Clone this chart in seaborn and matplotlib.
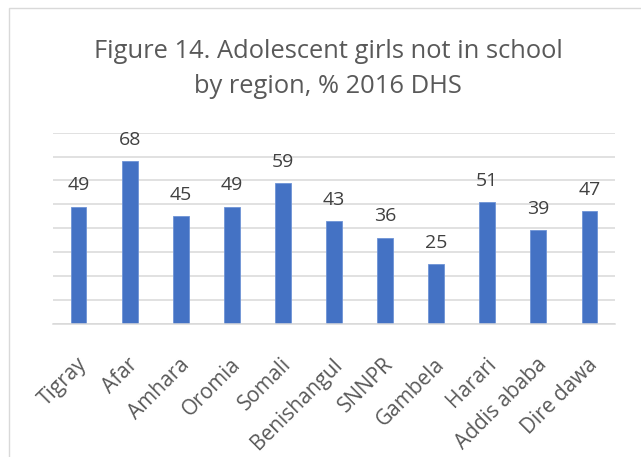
import matplotlib
matplotlib.use("Agg")
import matplotlib.pyplot as plt
import matplotlib.transforms as mtransforms
import seaborn as sns
import pandas as pd

# 数据
regions = ["Tigray", "Afar", "Amhara", "Oromia", "Somali", "Benishangul",
           "SNNPR", "Gambela", "Harari", "Addis ababa", "Dire dawa"]
values = [49, 68, 45, 49, 59, 43, 36, 25, 51, 39, 47]
title_lines = ["Figure 14. Adolescent girls not in school",
               "by region, % 2016 DHS"]

sns.set_theme(style="white")
plt.rcParams["font.family"] = ["Open Sans", "DejaVu Sans"]

df = pd.DataFrame({"region": regions, "value": values})

W, H = 641, 457
fig = plt.figure(figsize=(W / 100, H / 100), dpi=100)
ax = fig.add_axes([53 / W, 1 - 323.5 / H, (615 - 53) / W, (323.5 - 132.7) / H])

sns.barplot(data=df, x="region", y="value", color="#4472C4", width=0.31,
            saturation=1, edgecolor="#6E93D6", linewidth=0.6, ax=ax)

ax.set_ylim(0, 80)
ax.set_xlim(-0.5, len(regions) - 0.5)
ax.set_yticks(range(0, 81, 10))
ax.yaxis.grid(True, color="#D9D9D9", linewidth=1.1)
ax.set_axisbelow(True)
ax.tick_params(axis="y", left=False, labelleft=False)
ax.tick_params(axis="x", bottom=False, pad=16)
for s in ["top", "right", "left"]:
    ax.spines[s].set_visible(False)
ax.spines["bottom"].set_color("#D9D9D9")
ax.spines["bottom"].set_linewidth(1.1)
ax.set_xlabel("")
ax.set_ylabel("")

ax.set_xticks(range(len(regions)))
ax.set_xticklabels(regions, rotation=45, ha="right", va="top",
                   rotation_mode="anchor", fontsize=15, color="#595959")
shift = mtransforms.ScaledTranslation(-2 / 100, 0, fig.dpi_scale_trans)
for lbl in ax.get_xticklabels():
    lbl.set_transform(lbl.get_transform() + shift)

# 数据标签
for i, v in enumerate(values):
    ax.annotate(str(v), (i, v), xytext=(0, 8.8), textcoords="offset points",
                ha="center", va="bottom", fontsize=14, color="#404040")

# 标题
fig.text(328 / W, 1 - 58 / H, title_lines[0], ha="center", va="baseline",
         fontsize=18.4, color="#595959")
fig.text(328 / W, 1 - 93 / H, title_lines[1], ha="center", va="baseline",
         fontsize=18.4, color="#595959")

# 外框
border = plt.Rectangle((9 / W, -0.1), 1.2, 1 - 8 / H + 0.1,
                       transform=fig.transFigure, fill=False,
                       edgecolor="#D9D9D9", linewidth=1.0)
fig.add_artist(border)

fig.savefig("out.png", dpi=100)
